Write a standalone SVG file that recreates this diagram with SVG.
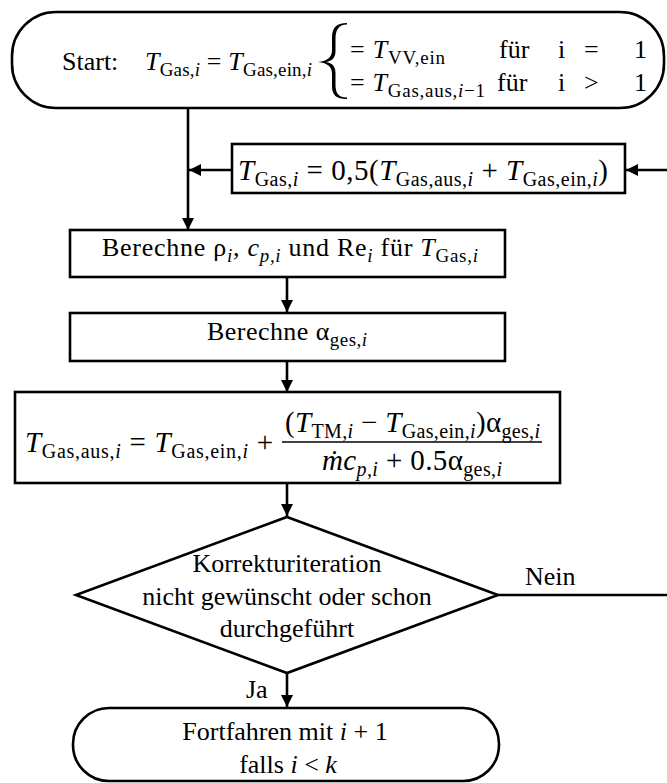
<svg xmlns="http://www.w3.org/2000/svg" width="667" height="783" viewBox="0 0 667 783">
  <defs>
    <marker id="arrow" viewBox="0 0 12 12" refX="12" refY="6" markerWidth="12" markerHeight="12" markerUnits="userSpaceOnUse" orient="auto">
      <path d="M0,0 L12,6 L0,12 Z" fill="#000"/>
    </marker>
    <style>
      .box { fill: #fff; stroke: #000; stroke-width: 2.6; }
      .line { fill: none; stroke: #000; stroke-width: 2.6; }
      .arr { fill: none; stroke: #000; stroke-width: 2.6; marker-end: url(#arrow); }
      .t { font-family: "Liberation Serif", "Times New Roman", serif; font-size: 26px; fill: #000; }
      .f { font-size: 29px; }
      .v { font-style: italic; }
      .s { font-size: 19px; }
      .f .s { font-size: 20px; }
    </style>
  </defs>

  <!-- connectors -->
  <g id="connectors">
    <line class="arr" x1="188" y1="108" x2="188" y2="230"/>
    <line class="arr" x1="232" y1="170" x2="189" y2="170"/>
    <line class="arr" x1="667" y1="170" x2="626" y2="170"/>
    <line class="arr" x1="287" y1="277" x2="287" y2="312"/>
    <line class="arr" x1="287" y1="361" x2="287" y2="392"/>
    <line class="arr" x1="287" y1="483" x2="287" y2="516"/>
    <line class="arr" x1="287" y1="673" x2="287" y2="707"/>
    <line class="line" x1="498" y1="595" x2="667" y2="595"/>
    <text class="t" x="525" y="585">Nein</text>
    <text class="t" x="246" y="698">Ja</text>
  </g>

  <!-- start terminator -->
  <g id="start">
    <rect class="box" x="12" y="12" width="652" height="96" rx="44" ry="44"/>
    <text class="t" x="62" y="70">Start:</text>
    <text class="t" x="145" y="70" textLength="167" lengthAdjust="spacing"><tspan class="v">T</tspan><tspan class="s" dy="6">Gas,</tspan><tspan class="s v">i</tspan><tspan dy="-6"> = </tspan><tspan class="v">T</tspan><tspan class="s" dy="6">Gas,ein,</tspan><tspan class="s v">i</tspan></text>
    <path d="M347,23 C336,23 332,28 332,38 L332,50 C332,57 328,61 318,62 C328,63 332,67 332,74 L332,86 C332,95 336,99 347,99 L347,97.5 C338.5,97.5 335.5,93 335.5,85 L335.5,73 C335.5,66 332,63 326,62 C332,61 335.5,58 335.5,51 L335.5,39 C335.5,30 338.5,24.5 347,24.5 Z" fill="#000"/>
    <text class="t" x="350" y="58" textLength="95" lengthAdjust="spacing">= <tspan class="v">T</tspan><tspan class="s" dy="6">VV,ein</tspan></text>
    <text class="t" y="58"><tspan x="499">für</tspan><tspan x="558">i</tspan><tspan x="584">=</tspan><tspan x="634">1</tspan></text>
    <text class="t" x="350" y="91" textLength="135" lengthAdjust="spacing">= <tspan class="v">T</tspan><tspan class="s" dy="6">Gas,aus,</tspan><tspan class="s v">i</tspan><tspan class="s">−1</tspan></text>
    <text class="t" y="91"><tspan x="497">für</tspan><tspan x="558">i</tspan><tspan x="584">&gt;</tspan><tspan x="634">1</tspan></text>
  </g>

  <!-- mean gas temperature -->
  <g id="mean">
    <rect class="box" x="232" y="144" width="393" height="49"/>
    <text class="t f" x="238" y="180" textLength="370" lengthAdjust="spacing"><tspan class="v">T</tspan><tspan class="s" dy="6">Gas,</tspan><tspan class="s v">i</tspan><tspan dy="-6"> = 0,5(</tspan><tspan class="v">T</tspan><tspan class="s" dy="6">Gas,aus,</tspan><tspan class="s v">i</tspan><tspan dy="-6"> + </tspan><tspan class="v">T</tspan><tspan class="s" dy="6">Gas,ein,</tspan><tspan class="s v">i</tspan><tspan dy="-6">)</tspan></text>
  </g>

  <!-- properties -->
  <g id="props">
    <rect class="box" x="70" y="230" width="435" height="47"/>
    <text class="t" x="102" y="256" textLength="376" lengthAdjust="spacing">Berechne ρ<tspan class="s v" dy="6">i</tspan><tspan dy="-6">, </tspan><tspan class="v">c</tspan><tspan class="s v" dy="6">p,i</tspan><tspan dy="-6"> und Re</tspan><tspan class="s v" dy="6">i</tspan><tspan dy="-6"> für </tspan><tspan class="v">T</tspan><tspan class="s" dy="6">Gas,</tspan><tspan class="s v">i</tspan></text>
  </g>

  <!-- heat transfer coefficient -->
  <g id="alpha">
    <rect class="box" x="70" y="313" width="435" height="48"/>
    <text class="t" x="207" y="340" textLength="160" lengthAdjust="spacing">Berechne α<tspan class="s" dy="6">ges,</tspan><tspan class="s v">i</tspan></text>
  </g>

  <!-- outlet temperature -->
  <g id="outlet">
    <rect class="box" x="15" y="392" width="545" height="91"/>
    <text class="t f" x="25" y="452" textLength="248" lengthAdjust="spacing"><tspan class="v">T</tspan><tspan class="s" dy="6">Gas,aus,</tspan><tspan class="s v">i</tspan><tspan dy="-6"> = </tspan><tspan class="v">T</tspan><tspan class="s" dy="6">Gas,ein,</tspan><tspan class="s v">i</tspan><tspan dy="-6"> +</tspan></text>
    <text class="t f" x="285" y="432" textLength="255" lengthAdjust="spacing">(<tspan class="v">T</tspan><tspan class="s" dy="6">TM,</tspan><tspan class="s v">i</tspan><tspan dy="-6"> − </tspan><tspan class="v">T</tspan><tspan class="s" dy="6">Gas,ein,</tspan><tspan class="s v">i</tspan><tspan dy="-6">)α</tspan><tspan class="s" dy="6">ges,</tspan><tspan class="s v">i</tspan></text>
    <line x1="282" y1="442" x2="542" y2="442" stroke="#000" stroke-width="1.6"/>
    <text class="t f" x="322" y="470" textLength="180" lengthAdjust="spacing"><tspan class="v">ṁc</tspan><tspan class="s v" dy="6">p,i</tspan><tspan dy="-6"> + 0.5α</tspan><tspan class="s" dy="6">ges,</tspan><tspan class="s v">i</tspan></text>
  </g>

  <!-- decision -->
  <g id="decision">
    <polygon class="box" points="287,517 498,595 287,673 76,595"/>
    <text class="t" x="287" y="572" text-anchor="middle">Korrekturiteration</text>
    <text class="t" x="287" y="605" text-anchor="middle">nicht gewünscht oder schon</text>
    <text class="t" x="287" y="637" text-anchor="middle">durchgeführt</text>
  </g>

  <!-- end terminator -->
  <g id="end">
    <rect class="box" x="73" y="708" width="426" height="73" rx="36" ry="36"/>
    <text class="t" x="285" y="740" text-anchor="middle">Fortfahren mit <tspan class="v">i</tspan> + 1</text>
    <text class="t" x="288" y="773" text-anchor="middle">falls <tspan class="v">i</tspan> &lt; <tspan class="v">k</tspan></text>
  </g>
</svg>
